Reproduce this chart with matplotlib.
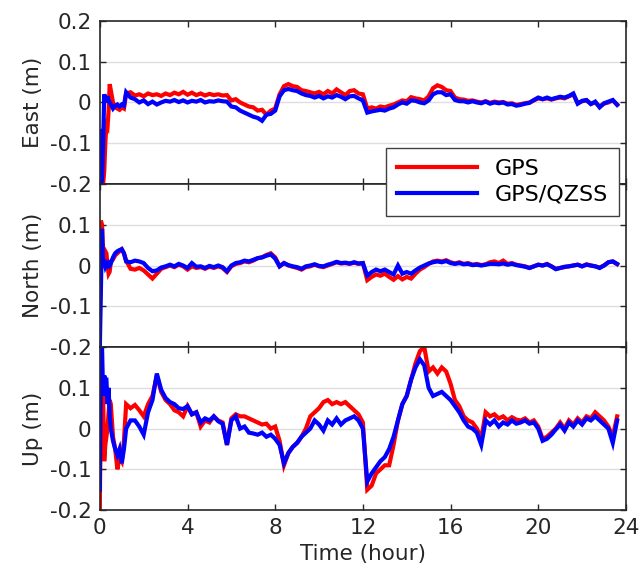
import numpy as np
import matplotlib
matplotlib.use('Agg')
import matplotlib.pyplot as plt

plt.rcParams['font.family'] = ['DejaVu Sans']
plt.rcParams['axes.unicode_minus'] = False

# sample times (hour): dense at the start, then every 0.2 h
t = np.concatenate([np.arange(0, 0.5, 0.05), np.arange(0.5, 1.15, 0.1), np.arange(1.2, 23.65, 0.2)])

# East error (m)
E_gps = [
    -0.19, -0.2, -0.2, -0.2, -0.17, -0.1, -0.055, -0.06, -0.02, 0.045, 0.03, 0.0, -0.012, -0.015, -0.018, -0.012, -0.015,
    0.022, 0.025, 0.017, 0.02, 0.015, 0.022, 0.018, 0.02, 0.016, 0.022,
    0.018, 0.024, 0.02, 0.026, 0.019, 0.024, 0.018, 0.022, 0.017, 0.021,
    0.018, 0.02, 0.017, 0.018, 0.005, 0.008, 0.0, -0.005, -0.01, -0.012,
    -0.02, -0.018, -0.03, -0.02, -0.015, 0.02, 0.04, 0.045, 0.04, 0.038,
    0.03, 0.028, 0.025, 0.022, 0.026, 0.02, 0.028, 0.022, 0.032, 0.025,
    0.018, 0.028, 0.03, 0.022, 0.02, -0.015, -0.012, -0.015, -0.01, -0.012,
    -0.008, -0.005, 0.0, 0.005, 0.003, 0.013, 0.01, 0.008, 0.005, 0.015,
    0.035, 0.042, 0.038, 0.03, 0.028, 0.012, 0.008, 0.007, 0.004, 0.005,
    0.002, 0.0, 0.003, -0.001, 0.002, 0.0, 0.001, -0.003, -0.002, -0.006,
    -0.004, -0.002, 0.0, 0.005, 0.01, 0.008, 0.01, 0.007, 0.01, 0.012,
    0.01, 0.015, 0.02, -0.002, 0.003, 0.005, -0.003, 0.0, -0.01, -0.003,
    0.0, 0.005, -0.005]
E_qzss = [
    -0.07, -0.2, -0.19, -0.1, 0.02, 0.01, 0.0, 0.015, 0.005, 0.0, -0.005, -0.015, -0.008, -0.005, -0.01, -0.005, -0.008,
    0.025, 0.012, 0.008, 0.0, 0.005, -0.004, 0.002, -0.005, 0.0, 0.004,
    0.002, 0.006, 0.001, 0.005, 0.0, 0.004, 0.002, 0.006, 0.0, 0.003,
    0.002, 0.005, 0.003, 0.002, -0.01, -0.012, -0.02, -0.025, -0.03, -0.035,
    -0.038, -0.045, -0.03, -0.028, -0.02, 0.015, 0.03, 0.033, 0.03, 0.028,
    0.022, 0.018, 0.016, 0.012, 0.016, 0.01, 0.015, 0.012, 0.018, 0.014,
    0.008, 0.015, 0.016, 0.01, 0.005, -0.025, -0.022, -0.02, -0.018, -0.02,
    -0.015, -0.012, -0.005, 0.0, -0.003, 0.005, 0.004, 0.0, -0.002, 0.005,
    0.02, 0.025, 0.025, 0.018, 0.02, 0.006, 0.003, 0.003, 0.0, 0.003,
    0.0, -0.002, 0.002, -0.003, 0.0, -0.002, 0.0, -0.005, -0.004, -0.008,
    -0.006, -0.003, -0.001, 0.006, 0.012, 0.008, 0.012, 0.008, 0.011, 0.014,
    0.012, 0.016, 0.022, -0.003, 0.004, 0.006, -0.004, 0.002, -0.012, -0.002,
    0.002, 0.006, -0.006]

# North error (m)
N_gps = [
    -0.14, 0.11, 0.1, 0.03, 0.04, 0.035, 0.03, 0.0, -0.02, -0.015, 0.01, 0.015, 0.025, 0.03, 0.035, 0.04, 0.03,
    0.012, -0.008, -0.01, -0.006, -0.012, -0.022, -0.032, -0.02, -0.008, -0.004,
    0.0, -0.004, 0.002, -0.002, -0.01, -0.002, -0.006, -0.004, -0.008, -0.003,
    -0.006, -0.002, -0.006, -0.016, -0.002, 0.004, 0.006, 0.01, 0.008, 0.012,
    0.018, 0.02, 0.026, 0.03, 0.02, -0.002, 0.006, 0.0, -0.003, -0.006,
    -0.01, -0.004, -0.002, 0.002, -0.002, -0.004, 0.0, 0.004, 0.008, 0.005,
    0.006, 0.004, 0.007, 0.004, 0.006, -0.036, -0.028, -0.022, -0.025, -0.02,
    -0.028, -0.035, -0.026, -0.034, -0.028, -0.032, -0.02, -0.01, -0.004, 0.004,
    0.01, 0.012, 0.01, 0.013, 0.008, 0.005, 0.008, 0.004, 0.006, 0.002,
    0.004, 0.001, 0.003, 0.008, 0.01, 0.006, 0.012, 0.004, 0.006, 0.002,
    0.0, -0.002, -0.006, -0.002, 0.002, 0.0, 0.004, -0.002, -0.008, -0.006,
    -0.004, -0.002, 0.0, 0.002, -0.002, 0.003, 0.0, -0.002, -0.005, 0.0,
    0.008, 0.01, 0.003]
N_qzss = [
    -0.2, -0.05, 0.09, 0.0, 0.01, -0.002, 0.005, 0.0, 0.005, 0.0, 0.005, 0.02, 0.03, 0.035, 0.038, 0.04, 0.03,
    0.01, 0.008, 0.012, 0.01, 0.006, -0.006, -0.014, -0.012, -0.005, -0.002,
    0.002, -0.002, 0.004, 0.0, -0.006, 0.006, -0.003, -0.002, -0.006, -0.001,
    -0.004, 0.0, -0.004, -0.014, 0.0, 0.006, 0.008, 0.012, 0.01, 0.014,
    0.018, 0.02, 0.024, 0.027, 0.017, -0.002, 0.006, 0.001, -0.002, -0.004,
    -0.008, -0.002, 0.0, 0.003, -0.001, -0.002, 0.002, 0.005, 0.009, 0.006,
    0.007, 0.005, 0.008, 0.005, 0.006, -0.025, -0.016, -0.01, -0.014, -0.01,
    -0.016, -0.022, 0.0, -0.02, -0.016, -0.02, -0.012, -0.005, 0.0, 0.005,
    0.008, 0.01, 0.008, 0.011, 0.006, 0.004, 0.006, 0.003, 0.004, 0.001,
    0.002, 0.0, 0.002, 0.004, 0.004, 0.003, 0.005, 0.002, 0.004, 0.001,
    -0.001, -0.003, -0.006, -0.002, 0.002, 0.0, 0.003, -0.002, -0.009, -0.006,
    -0.003, -0.002, 0.0, 0.002, -0.002, 0.002, 0.0, -0.002, -0.006, 0.0,
    0.008, 0.01, 0.004]

# Up error (m)
U_gps = [
    -0.2, 0.2, 0.07, 0.08, -0.08, -0.04, -0.02, 0.0, 0.04, 0.07, 0.06, -0.02, -0.05, -0.1, -0.07, -0.08, -0.03,
    0.06, 0.05, 0.058, 0.045, 0.03, 0.06, 0.08, 0.13, 0.09, 0.07,
    0.06, 0.045, 0.04, 0.03, 0.055, 0.035, 0.04, 0.005, 0.02, 0.015,
    0.03, 0.02, 0.015, -0.04, 0.025, 0.035, 0.03, 0.03, 0.025, 0.02,
    0.015, 0.01, 0.012, 0.0, 0.005, -0.03, -0.09, -0.06, -0.045, -0.035,
    -0.02, 0.0, 0.03, 0.04, 0.05, 0.065, 0.07, 0.06, 0.065, 0.06,
    0.065, 0.055, 0.045, 0.035, 0.015, -0.15, -0.14, -0.11, -0.1, -0.09,
    -0.09, -0.04, 0.02, 0.06, 0.08, 0.12, 0.16, 0.19, 0.2, 0.14,
    0.15, 0.135, 0.15, 0.14, 0.11, 0.07, 0.055, 0.03, 0.02, 0.015,
    0.0, -0.025, 0.04, 0.03, 0.035, 0.025, 0.03, 0.02, 0.028, 0.022,
    0.02, 0.025, 0.015, 0.02, 0.005, -0.025, -0.02, -0.01, 0.0, 0.015,
    0.0, 0.02, 0.01, 0.025, 0.015, 0.03, 0.025, 0.04, 0.03, 0.02,
    0.005, -0.02, 0.03]
U_qzss = [
    -0.15, 0.2, 0.2, 0.08, 0.13, 0.12, 0.12, 0.06, 0.1, 0.03, 0.0, -0.03, -0.05, -0.065, -0.05, -0.085, -0.05,
    0.0, 0.02, 0.02, 0.005, -0.015, 0.04, 0.07, 0.135, 0.095, 0.075,
    0.065, 0.06, 0.05, 0.048, 0.055, 0.035, 0.04, 0.015, 0.025, 0.02,
    0.03, 0.018, 0.012, -0.04, 0.02, 0.03, 0.0, 0.005, -0.01, -0.012,
    -0.015, -0.01, -0.02, -0.015, -0.025, -0.04, -0.085, -0.06, -0.045, -0.035,
    -0.02, -0.01, 0.0, 0.02, 0.01, -0.005, 0.02, 0.01, 0.025, 0.01,
    0.02, 0.025, 0.03, 0.02, 0.0, -0.13, -0.11, -0.095, -0.08, -0.07,
    -0.05, -0.02, 0.02, 0.06, 0.08, 0.12, 0.15, 0.17, 0.155, 0.1,
    0.08, 0.085, 0.09, 0.08, 0.07, 0.055, 0.04, 0.02, 0.005, 0.0,
    -0.01, -0.04, 0.02, 0.01, 0.02, 0.005, 0.015, 0.01, 0.02, 0.012,
    0.015, 0.02, 0.012, 0.015, 0.0, -0.03, -0.025, -0.015, -0.002, 0.01,
    -0.005, 0.015, 0.005, 0.02, 0.01, 0.025, 0.02, 0.03, 0.02, 0.01,
    0.0, -0.035, 0.02]

panels = [('East (m)', E_gps, E_qzss), ('North (m)', N_gps, N_qzss), ('Up (m)', U_gps, U_qzss)]
yticks = [-0.2, -0.1, 0, 0.1, 0.2]
xticks = [0, 4, 8, 12, 16, 20, 24]
dark = '#262626'

fig, axes = plt.subplots(3, 1, figsize=(6.4, 5.81), dpi=100, sharex=True)
fig.subplots_adjust(left=0.156, right=0.978, top=0.964, bottom=0.122, hspace=0)

for i, (ax, (label, gps, qzss)) in enumerate(zip(axes, panels)):
    # only horizontal grid lines inside the panel
    for g in [-0.1, 0, 0.1]:
        ax.axhline(g, color='#dedede', lw=1, zorder=0)
    l1, = ax.plot(t, gps, color='red', lw=3, label='GPS', solid_joinstyle='miter')
    l2, = ax.plot(t, qzss, color='blue', lw=3, label='GPS/QZSS', solid_joinstyle='miter')
    ax.set_xlim(0, 24)
    ax.set_ylim(-0.2, 0.2)
    ax.set_yticks(yticks)
    labs = ['-0.2', '-0.1', '0', '0.1', '0.2']
    if i > 0:
        labs[-1] = ''
    ax.set_yticklabels(labs)
    ax.set_xticks(xticks)
    ax.set_ylabel(label, fontsize=15.5, color=dark, labelpad=5)
    ax.tick_params(direction='in', length=4.5, width=1, top=True, right=True,
                   labelsize=15.5, colors=dark, pad=6)
    for s in ax.spines.values():
        s.set_color(dark)
        s.set_linewidth(1.2)

axes[2].set_xlabel('Time (hour)', fontsize=15.5, color=dark, labelpad=4)

fig.legend(handles=[l1, l2], loc='upper left', bbox_to_anchor=(0.603, 0.745),
           bbox_transform=fig.transFigure, fontsize=16, handlelength=3.6,
           handletextpad=0.8, labelspacing=0.25, borderpad=0.5, borderaxespad=0,
           fancybox=False, framealpha=1, edgecolor='#404040')

fig.savefig('out.png', dpi=100)
